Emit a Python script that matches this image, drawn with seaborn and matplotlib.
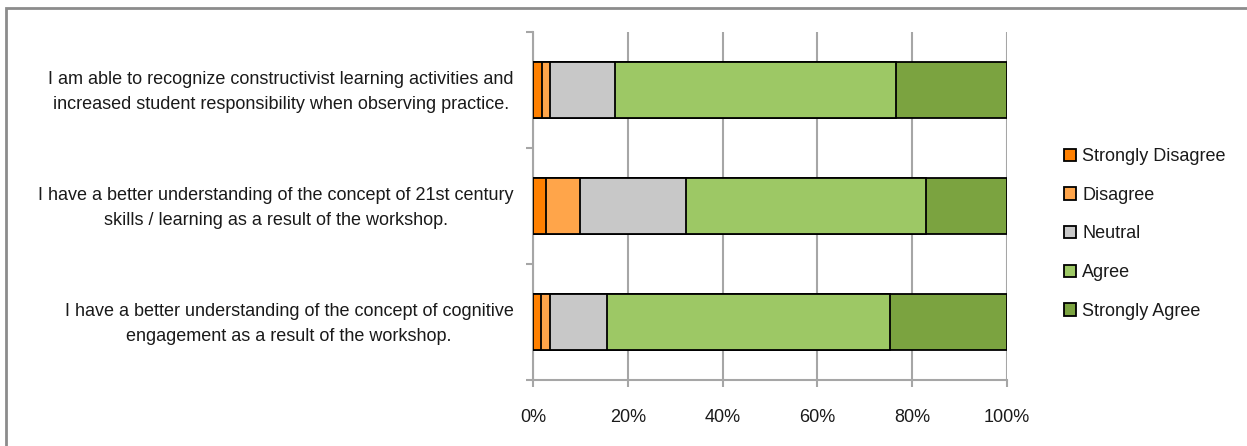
import matplotlib
matplotlib.use("Agg")
import matplotlib.pyplot as plt
from matplotlib.patches import Patch, Rectangle
from matplotlib.ticker import FixedLocator, FuncFormatter
from matplotlib.transforms import ScaledTranslation
import numpy as np
import pandas as pd
import seaborn as sns

# Survey statements (top to bottom)
statements = [
    "I am able to recognize constructivist learning activities and\nincreased student responsibility when observing practice.",
    "I have a better understanding of the concept of 21st century\nskills / learning as a result of the workshop.",
    "I have a better understanding of the concept of cognitive\nengagement as a result of the workshop.",
]

# Response shares in percent, one list per response level
responses = ["Strongly Disagree", "Disagree", "Neutral", "Agree", "Strongly Agree"]
strongly_disagree = [2.0, 2.7, 1.6]
disagree = [1.6, 7.3, 2.0]
neutral = [13.6, 22.2, 12.1]
agree = [59.4, 50.7, 59.6]
strongly_agree = [23.4, 17.1, 24.7]

x_ticks = [0, 20, 40, 60, 80, 100]

colors = ["#FF8000", "#FFA54A", "#C8C8C8", "#9DC865", "#7BA340"]

sns.set_theme(style="white")
plt.rcParams["font.family"] = ["Liberation Sans", "DejaVu Sans"]
text_color = "#1a1a1a"
fs = 13

series = [strongly_disagree, disagree, neutral, agree, strongly_agree]
df = pd.DataFrame(dict(zip(responses, series)))
df["statement"] = statements
cum = df[responses].cumsum(axis=1)

fig = plt.figure(figsize=(12.47, 4.46), dpi=100)
ax = fig.add_axes([533 / 1247, 1 - 380 / 446, 474 / 1247, 348 / 446])

# Stacked bars: draw cumulative totals from the widest to the narrowest
for resp, col in reversed(list(zip(responses, colors))):
    plot_df = pd.DataFrame({"statement": statements, "value": cum[resp].values})
    sns.barplot(data=plot_df, y="statement", x="value", order=statements,
                orient="h", color=col, saturation=1, width=0.475,
                edgecolor="black", linewidth=1.3, ax=ax, zorder=3)

ax.set_xlim(0, 100)
ax.set_ylim(2.5, -0.5)
ax.set_xlabel("")
ax.set_ylabel("")

grid_color = "#A6A6A6"
ax.xaxis.set_major_locator(FixedLocator(x_ticks))
ax.xaxis.set_major_formatter(FuncFormatter(lambda v, p: f"{v:.0f}%"))
ax.grid(axis="x", color=grid_color, linewidth=1.5, zorder=0)
ax.grid(axis="y", visible=False)
ax.set_axisbelow(True)

for side in ["top", "right"]:
    ax.spines[side].set_visible(False)
for side in ["left", "bottom"]:
    ax.spines[side].set_color(grid_color)
    ax.spines[side].set_linewidth(1.5)

ax.tick_params(axis="x", which="major", direction="out", length=5, width=1.5,
               color=grid_color, pad=16, labelsize=fs, labelcolor=text_color,
               bottom=True)
ax.yaxis.set_minor_locator(FixedLocator([-0.5, 0.5, 1.5, 2.5]))
ax.tick_params(axis="y", which="minor", direction="out", length=5, width=1.5,
               color=grid_color, left=True)
ax.tick_params(axis="y", which="major", length=0, pad=14, labelsize=fs,
               labelcolor=text_color)
# Nudge the two-line statement labels up so they sit centred on their bars
lift = ScaledTranslation(0, 3 / 72, fig.dpi_scale_trans)
for lbl in ax.get_yticklabels():
    lbl.set_multialignment("center")
    lbl.set_linespacing(1.65)
    lbl.set_transform(lbl.get_transform() + lift)

handles = [Patch(facecolor=c, edgecolor="black", linewidth=1.3, label=r)
           for r, c in zip(responses, colors)]
leg = fig.legend(handles=handles, loc="center left",
                 bbox_to_anchor=(1064 / 1247, 1 - 234 / 446),
                 frameon=False, fontsize=fs, handlelength=0.66,
                 handleheight=0.66, handletextpad=0.35, labelspacing=1.2,
                 borderaxespad=0, borderpad=0)
for t in leg.get_texts():
    t.set_color(text_color)

# Outer chart frame (top and left edges visible)
fig.add_artist(Rectangle((5.5 / 1247, -0.2), 1.5, 1.2 - 7.5 / 446,
                         transform=fig.transFigure, fill=False,
                         edgecolor="#8C8C8C", linewidth=2))

fig.savefig("out.png", dpi=100)
